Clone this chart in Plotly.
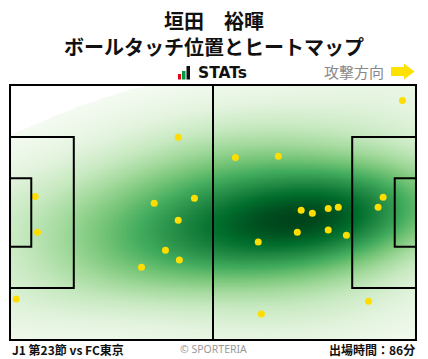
import numpy as np
import plotly.graph_objects as go

# ---- data (pitch metres: x 0-105 left->right, y 0-68 top->bottom) ----
touch_x = [43.5, 6.5, 7.1, 37.3, 47.7, 43.5, 40.2, 43.8, 34.0, 1.6,
           101.5, 58.3, 69.4, 96.5, 95.2, 75.3, 78.2, 82.3, 84.9, 74.3,
           82.3, 87.0, 64.2, 92.7, 65.0]
touch_y = [13.9, 29.7, 39.3, 31.5, 30.2, 36.1, 44.1, 46.7, 48.6, 57.1,
           4.1, 19.3, 19.0, 29.9, 32.6, 33.4, 34.2, 32.9, 32.6, 39.3,
           38.7, 40.1, 41.9, 57.7, 61.1]

title_player = "垣田　裕暉"
title_sub = "ボールタッチ位置とヒートマップ"
match_label = "J1 第23節 vs FC東京"
minutes_label = "出場時間：86分"

PITCH_L, PITCH_W = 105.0, 68.0

# ---- gaussian KDE (Scott's rule, widened) ----
pts = np.vstack([touch_x, touch_y])
n = pts.shape[1]
factor = 1.35 * n ** (-1.0 / 6.0)
cov = np.cov(pts) * factor ** 2
inv = np.linalg.inv(cov)
xs = np.linspace(0, PITCH_L, 300)
ys = np.linspace(0, PITCH_W, 200)
GX, GY = np.meshgrid(xs, ys)
dx = GX[..., None] - pts[0]
dy = GY[..., None] - pts[1]
q = inv[0, 0] * dx * dx + 2 * inv[0, 1] * dx * dy + inv[1, 1] * dy * dy
Z = np.exp(-0.5 * q).sum(axis=-1)
flat = np.sort(Z.ravel())
cum = np.cumsum(flat) / flat.sum()
thr = flat[np.searchsorted(cum, 0.002)]
Zm = np.where(Z >= thr, Z, np.nan)

greens = ['rgb(244,250,241)', 'rgb(226,243,221)', 'rgb(199,233,192)',
          'rgb(161,217,155)', 'rgb(116,196,118)', 'rgb(65,171,93)',
          'rgb(35,139,69)', 'rgb(0,109,44)', 'rgb(0,68,27)']
cscale = [[i / (len(greens) - 1), c] for i, c in enumerate(greens)]

fig = go.Figure()
fig.add_trace(go.Heatmap(x=xs, y=ys, z=Zm, colorscale=cscale, zmin=thr,
                         zmax=np.nanmax(Zm), showscale=False, zsmooth='best',
                         hoverinfo='skip'))
fig.add_trace(go.Scatter(x=touch_x, y=touch_y, mode='markers',
                         marker=dict(color='#FFDD00', size=7),
                         hoverinfo='skip', showlegend=False))

line = dict(color='black', width=2)
shapes = [
    dict(type='rect', x0=0, x1=PITCH_L, y0=0, y1=PITCH_W, line=line),
    dict(type='line', x0=PITCH_L / 2, x1=PITCH_L / 2, y0=0, y1=PITCH_W, line=line),
]
pa_d, pa_w = 16.5, 40.32
ga_d, ga_w = 5.5, 18.32
for x0, x1 in [(0, pa_d), (PITCH_L - pa_d, PITCH_L)]:
    shapes.append(dict(type='rect', x0=x0, x1=x1, y0=(PITCH_W - pa_w) / 2,
                       y1=(PITCH_W + pa_w) / 2, line=line))
for x0, x1 in [(0, ga_d), (PITCH_L - ga_d, PITCH_L)]:
    shapes.append(dict(type='rect', x0=x0, x1=x1, y0=(PITCH_W - ga_w) / 2,
                       y1=(PITCH_W + ga_w) / 2, line=line))

# plot area in pixels: x 9..417, y 84..341
def px(x):
    return (x - 9) / 408.0

def py(y):
    return (341 - y) / 257.0

arrow_pts = [(391, 67), (404, 67), (404, 63.5), (414.5, 71.5), (404, 79.5),
             (404, 76), (391, 76)]
path = "M " + " L ".join(f"{px(a):.5f},{py(b):.5f}" for a, b in arrow_pts) + " Z"
shapes.append(dict(type='path', path=path, xref='paper', yref='paper',
                   fillcolor='#FFE100', line=dict(width=0)))
for (a0, a1, b0, c) in [(178, 181, 74, '#E60012'), (182, 185.5, 71, '#009944'),
                        (186.5, 190, 66, '#111111')]:
    shapes.append(dict(type='rect', xref='paper', yref='paper', x0=px(a0), x1=px(a1),
                       y0=py(79.5), y1=py(b0), fillcolor=c, line=dict(width=0)))

cjk = "Noto Sans CJK JP"
ann = [
    dict(text=f"<b>{title_player}</b>", x=px(214), y=py(20), font=dict(size=20, family=cjk, color='#111')),
    dict(text=f"<b>{title_sub}</b>", x=px(214), y=py(46.5), font=dict(size=20, family=cjk, color='#111')),
    dict(text="<b>STATs</b>", x=px(196), y=py(73), xanchor='left',
         font=dict(size=15.5, family="DejaVu Sans", color='#111')),
    dict(text="攻撃方向", x=px(386), y=py(72), xanchor='right',
         font=dict(size=15, family=cjk, color='#888')),
    dict(text=f"<b>{match_label}</b>", x=px(10), y=py(349), xanchor='left',
         font=dict(size=12, family=cjk, color='#111')),
    dict(text="© SPORTERIA", x=px(213), y=py(348.5),
         font=dict(size=10.5, family="Noto Sans", color='#999')),
    dict(text=f"<b>{minutes_label}</b>", x=px(416.5), y=py(349), xanchor='right',
         font=dict(size=12, family=cjk, color='#111')),
]
for a in ann:
    a.setdefault('xanchor', 'center')
    a.update(xref='paper', yref='paper', yanchor='middle', showarrow=False)

fig.update_layout(
    width=428, height=359,
    margin=dict(l=9, r=11, t=84, b=18, pad=0),
    paper_bgcolor='white', plot_bgcolor='white',
    xaxis=dict(range=[-0.26, PITCH_L + 0.26], visible=False, fixedrange=True),
    yaxis=dict(range=[PITCH_W + 0.27, -0.27], visible=False, fixedrange=True),
    shapes=shapes, annotations=ann, showlegend=False,
)
fig.write_html("out.html", config={'displayModeBar': False},
               post_script="document.body.style.margin='0';document.body.style.overflow='hidden';")
